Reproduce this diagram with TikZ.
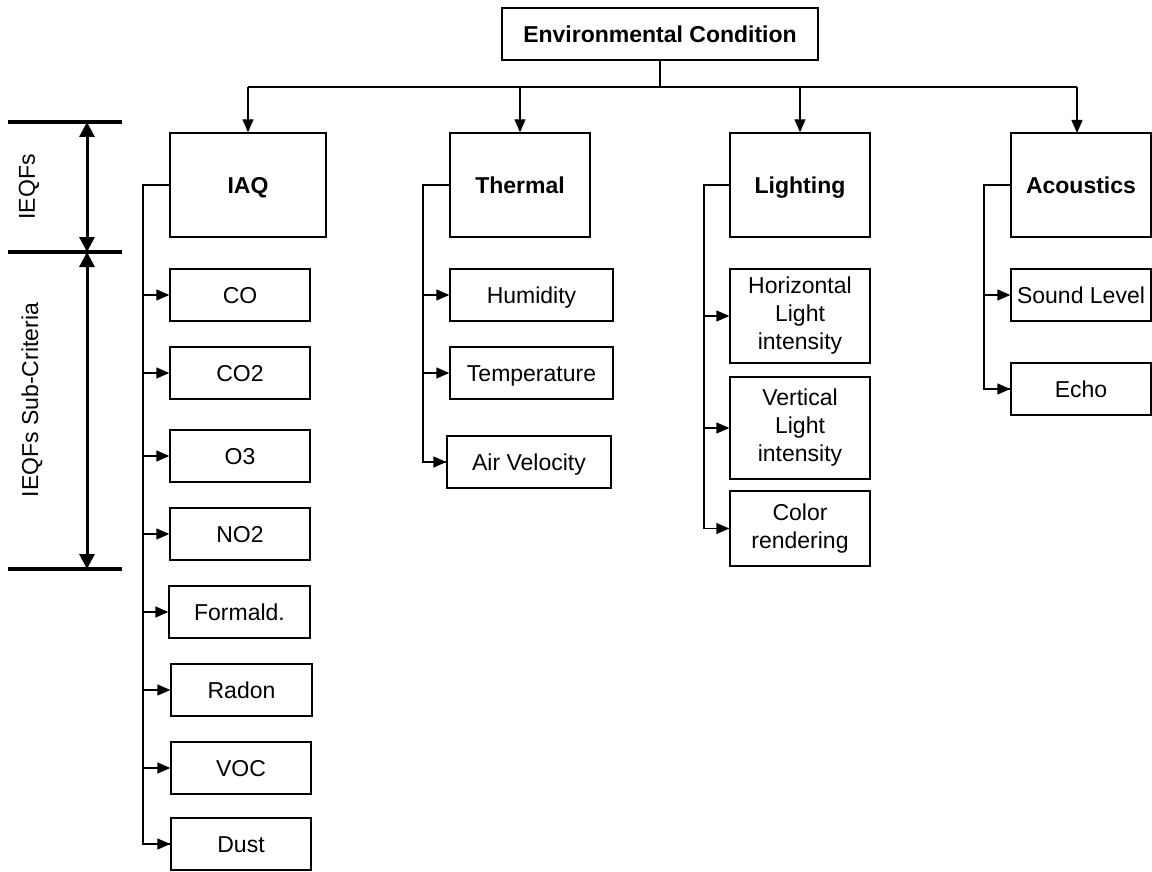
\documentclass[tikz,border=0pt]{standalone}
\usepackage{fontspec}
\setmainfont{Liberation Sans}
\usetikzlibrary{arrows.meta}
\begin{document}
\begin{tikzpicture}[x=1pt,y=-1pt,
  font=\fontsize{23}{28}\selectfont,
  box/.style={draw, line width=1.4pt, inner sep=0pt, align=center, minimum height=52pt},
  oneline/.style={text height=20pt, text depth=3.5pt},
  head/.style={box, oneline, font=\fontsize{23}{28}\selectfont\bfseries, minimum height=104pt},
  wire/.style={line width=1.4pt},
  feed/.style={wire, -{Triangle[length=13pt,width=11pt]}},
  bar/.style={line width=4pt},
  span/.style={line width=3pt, {Triangle[length=15pt,width=15pt]}-{Triangle[length=15pt,width=15pt]}}]
\useasboundingbox (0,0) rectangle (1152,872);

% root
\node[box, oneline, font=\fontsize{23}{28}\selectfont\bfseries, minimum width=316pt] (env) at (660,34) {Environmental Condition};

% factor boxes
\node[head, minimum width=156pt] (iaq) at (248,185) {IAQ};
\node[head, minimum width=140pt] (thermal) at (520,185) {Thermal};
\node[head, minimum width=140pt] (lighting) at (800,185) {Lighting};
\node[head, minimum width=140pt] (acoustics) at (1081,185) {Acoustics};

% distribution bus from the root
\coordinate (bus) at (660,87);
\coordinate (busL) at (248,87);
\coordinate (busR) at (1077,87);
\coordinate (acIn) at (1077,133);
\draw[wire] (env.south) -- (bus);
\draw[wire] (busL) -- (busR);
\draw[feed] (busL) -- (iaq.north);
\draw[feed] (bus -| thermal.north) -- (thermal.north);
\draw[feed] (bus -| lighting.north) -- (lighting.north);
\draw[feed] (busR) -- (acIn);

% IAQ sub-criteria
\node[box, oneline, minimum width=140pt] (co) at (240,295) {CO};
\node[box, oneline, minimum width=140pt] (co2) at (240,373) {CO2};
\node[box, oneline, minimum width=140pt] (o3) at (240,456) {O3};
\node[box, oneline, minimum width=140pt] (no2) at (240,534) {NO2};
\node[box, oneline, minimum width=141pt] (formald) at (239.5,612) {Formald.};
\node[box, oneline, minimum width=141pt] (radon) at (241.5,690) {Radon};
\node[box, oneline, minimum width=140pt] (voc) at (241,768) {VOC};
\node[box, oneline, minimum width=140pt] (dust) at (241,844) {Dust};
\coordinate (iaqbus) at (143,185);
\draw[wire] (iaq.west) -- (iaqbus) |- (dust.west);
\foreach \n in {co,co2,o3,no2,formald,radon,voc}
  \draw[feed] (iaqbus |- \n.west) -- (\n.west);
\draw[feed] (iaqbus |- dust.west) -- (dust.west);

% thermal sub-criteria
\node[box, oneline, minimum width=163pt] (humidity) at (531.5,295) {Humidity};
\node[box, oneline, minimum width=163pt] (temperature) at (531.5,373) {Temperature};
\node[box, oneline, minimum width=164pt] (airvel) at (529,462) {Air Velocity};
\coordinate (thbus) at (423,185);
\draw[wire] (thermal.west) -- (thbus) |- (airvel.west);
\foreach \n in {humidity,temperature,airvel}
  \draw[feed] (thbus |- \n.west) -- (\n.west);

% lighting sub-criteria
\node[box, minimum width=140pt, minimum height=94pt] (horiz) at (800,316) {Horizontal\\Light\\intensity};
\node[box, minimum width=140pt, minimum height=102pt] (vert) at (800,428) {Vertical\\Light\\intensity};
\node[box, minimum width=140pt, minimum height=75pt] (color) at (800,528.5) {Color\\rendering};
\coordinate (ltbus) at (704,185);
\draw[wire] (lighting.west) -- (ltbus) |- (color.west);
\foreach \n in {horiz,vert,color}
  \draw[feed] (ltbus |- \n.west) -- (\n.west);

% acoustics sub-criteria
\node[box, oneline, minimum width=140pt] (sound) at (1081,295) {Sound Level};
\node[box, oneline, minimum width=140pt] (echo) at (1081,389) {Echo};
\coordinate (acbus) at (984,185);
\draw[wire] (acoustics.west) -- (acbus) |- (echo.west);
\foreach \n in {sound,echo}
  \draw[feed] (acbus |- \n.west) -- (\n.west);

% level markers on the left
\coordinate (b1l) at (8,122);   \coordinate (b1r) at (122,122);
\coordinate (b2l) at (8,252);   \coordinate (b2r) at (122,252);
\coordinate (b3l) at (8,569);   \coordinate (b3r) at (122,569);
\draw[bar] (b1l) -- (b1r);
\draw[bar] (b2l) -- (b2r);
\draw[bar] (b3l) -- (b3r);
\coordinate (m1) at (87,122);
\coordinate (m2) at (87,252);
\coordinate (m3) at (87,569);
\draw[span] (m1) -- (m2);
\draw[span] (m2) -- (m3);
\node[rotate=90] (lvl1) at (29,187) {IEQFs};
\node[rotate=90] (lvl2) at (32,400) {IEQFs Sub-Criteria};
\end{tikzpicture}
\end{document}
